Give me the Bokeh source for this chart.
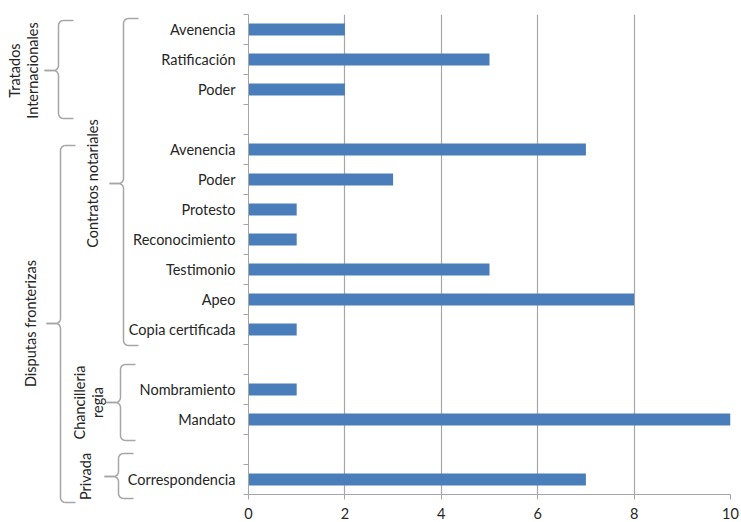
import numpy as np
from bokeh.plotting import figure
from bokeh.layouts import row, column
from bokeh.models import Range1d, FixedTicker, ColumnDataSource
from bokeh.core.properties import value
from bokeh.embed import file_html
from bokeh.resources import INLINE

# ---------------- data ----------------
categories = ["Avenencia", "Ratificación", "Poder",
              "Avenencia", "Poder", "Protesto", "Reconocimiento", "Testimonio", "Apeo", "Copia certificada",
              "Nombramiento", "Mandato",
              "Correspondencia"]
values = [2, 5, 2, 7, 3, 1, 1, 5, 8, 1, 1, 10, 7]
subgroups = (["Tratados Internacionales"] * 3 + ["Contratos notariales"] * 7 +
             ["Chancilleria regia"] * 2 + ["Privada"])
x_ticks = [0, 2, 4, 6, 8, 10]

# slot positions (a blank slot between sub-groups)
slots = []
s = 0
for i, g in enumerate(subgroups):
    if i > 0 and g != subgroups[i - 1]:
        s += 1
    slots.append(s)
    s += 1
n_slots = s
centers = [v + 0.5 for v in slots]

FONT = value("Lato")
FS = "14.5px"
TXT = "#262626"
GRAY = "#a6a6a6"
BAR = "#4a7ebb"

# ---------------- bar figure ----------------
p = figure(frame_width=482, frame_height=480, output_backend="svg", toolbar_location=None,
           x_range=Range1d(0, 10), y_range=Range1d(n_slots, 0),
           min_border_left=10, min_border_right=10, min_border_top=14, min_border_bottom=27)
p.outline_line_color = None
src = ColumnDataSource(dict(y=centers, v=values, cat=categories))
p.hbar(y="y", right="v", left=0, height=0.4, source=src, fill_color=BAR, line_color=None)

p.xaxis.ticker = FixedTicker(ticks=x_ticks)
p.xaxis.axis_line_color = GRAY
p.xaxis.major_tick_line_color = GRAY
p.xaxis.major_tick_out = 5
p.xaxis.major_tick_in = 0
p.xaxis.minor_tick_line_color = None
p.xaxis.major_label_standoff = 8
p.xaxis.major_label_text_font = "Lato"
p.xaxis.major_label_text_font_size = FS
p.xaxis.major_label_text_color = TXT

# category axis: only boundary tick marks (as minor ticks), labels drawn at the left
p.yaxis.ticker = FixedTicker(ticks=[], minor_ticks=list(range(n_slots + 1)))
p.yaxis.axis_line_color = GRAY
p.yaxis.minor_tick_line_color = GRAY
p.yaxis.minor_tick_out = 5
p.yaxis.minor_tick_in = 0
p.yaxis.major_tick_line_color = None
p.yaxis.major_label_standoff = 0

p.xgrid.ticker = FixedTicker(ticks=x_ticks[1:])
p.xgrid.grid_line_color = GRAY
p.xgrid.grid_line_width = 1.2
p.ygrid.grid_line_color = None

# ---------------- label / brace figure ----------------
TOP_PX, ROW_PX = 14, 30  # page y of first slot top, px per slot
W_LEFT, H_LEFT = 238, 521
def py(px):
    return (px - TOP_PX) / ROW_PX

q = figure(frame_width=W_LEFT, frame_height=H_LEFT, output_backend="svg", toolbar_location=None,
           x_range=Range1d(0, W_LEFT), y_range=Range1d(py(H_LEFT), py(0)),
           min_border=0, min_border_left=0, min_border_right=0, min_border_top=0, min_border_bottom=0)
q.outline_line_color = None
q.axis.visible = False
q.grid.visible = False

q.text(x=[235] * len(categories), y=centers, text=categories, text_align="right",
       text_baseline="middle", text_font=FONT, text_font_size=value(FS), text_color=TXT)

# brace specs (page px): vertical x, top, bottom, tip; label x
group_labels = ["Tratados\nInternacionales", "Contratos notariales", "Disputas fronterizas",
                "Chancilleria\nregia", "Privada"]
brace_x = [58, 123, 60, 120, 118]
brace_top = [20, 18, 145, 364, 453]
brace_bot = [118, 345, 502, 440, 498]
brace_tip = [70, 183, 323, 402, 476]
label_x = [23, 92, 30, 88, 85]

def arc(cx, cy, r, a0, a1, n=8):
    t = np.linspace(a0, a1, n)
    return cx + r * np.cos(t), cy + r * np.sin(t)

xs_all, ys_all = [], []
for xv, t, b, m in zip(brace_x, brace_top, brace_bot, brace_tip):
    r = 5
    hook = 15
    tip = 14
    xs, ys = [xv + hook], [t]
    ax_, ay_ = arc(xv + r, t + r, r, -np.pi / 2, -np.pi)
    xs += list(ax_); ys += list(ay_)
    ax_, ay_ = arc(xv - r, m - r, r, 0, np.pi / 2)
    xs += list(ax_); ys += list(ay_)
    xs += [xv - tip]; ys += [m]
    xs_all.append(xs); ys_all.append([py(v) for v in ys])
    xs, ys = [xv - tip], [m]
    ax_, ay_ = arc(xv - r, m + r, r, -np.pi / 2, 0)
    xs += list(ax_); ys += list(ay_)
    ax_, ay_ = arc(xv + r, b - r, r, np.pi, np.pi / 2)
    xs += list(ax_); ys += list(ay_)
    xs += [xv + hook]; ys += [b]
    xs_all.append(xs); ys_all.append([py(v) for v in ys])

q.multi_line(xs=xs_all, ys=ys_all, line_color=GRAY, line_width=1.5)
q.text(x=label_x, y=[py(v) for v in brace_tip], text=group_labels, angle=np.pi / 2,
       text_align="center", text_baseline="middle", text_font=FONT,
       text_font_size=value(FS), text_color=TXT, text_line_height=1.1)

layout = row(column(q), column(p))
open("out.html", "w").write(file_html(layout, INLINE))
